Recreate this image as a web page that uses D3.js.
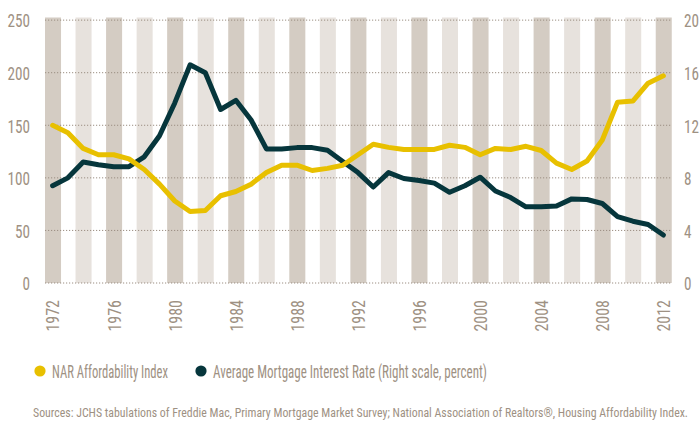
<!DOCTYPE html>
<html>
<head>
<meta charset="utf-8">
<script src="https://cdn.jsdelivr.net/npm/d3@7"></script>
<style>
  body { margin: 0; background: #fff; }
  svg text { font-family: "Roboto Condensed", "DejaVu Sans Condensed", "Liberation Sans Narrow", "DejaVu Sans", sans-serif; font-stretch: condensed; fill: #9e9183; }
</style>
</head>
<body>
<div id="chart"></div>
<script>
// Data
const years = d3.range(1972, 2013);
const affordability = [150, 143, 128, 122, 122, 118, 108, 94, 78, 68,
    69, 83, 87, 94, 105, 112, 112, 107, 109, 112,
    122, 132, 129, 127, 127, 127, 131, 129, 122, 128,
    127, 130, 126, 114, 108, 116, 136, 172, 173, 190, 197];
const mortgageRate = [7.4, 8.0, 9.2, 9.0, 8.85, 8.85, 9.6, 11.2, 13.7, 16.6,
    16.0, 13.2, 13.9, 12.4, 10.2, 10.2, 10.3, 10.3, 10.1, 9.25,
    8.4, 7.3, 8.4, 7.95, 7.8, 7.6, 6.9, 7.4, 8.05, 7.0,
    6.5, 5.8, 5.8, 5.85, 6.4, 6.35, 6.05, 5.05, 4.7, 4.45, 3.65];
const leftTicks = [0, 50, 100, 150, 200, 250];
const rightTicks = [0, 4, 8, 12, 16, 20];
const xLabelYears = d3.range(1972, 2013, 4);
const legendLabels = ['NAR Affordability Index', 'Average Mortgage Interest Rate (Right scale, percent)'];
const sourceNote = 'Sources: JCHS tabulations of Freddie Mac, Primary Mortgage Market Survey; National Association of Realtors\u00ae, Housing Affordability Index.';

const width = 700;
const height = 424;
const margin = {top: 17.5, right: 29, bottom: 141, left: 45};
const chartWidth = width - margin.left - margin.right;
const chartHeight = height - margin.top - margin.bottom;

const colors = {
    yellow: '#e8c000',
    dark: '#06363c',
    bandDark: '#d4ccc3',
    bandLight: '#e7e2dd',
    grid: '#9b8e82',
    text: '#9e9183'
};

// squeeze text horizontally to mimic the very condensed original font
function condense(selection, widthFn) {
    selection
        .attr('textLength', widthFn)
        .attr('lengthAdjust', 'spacingAndGlyphs');
}

const svg = d3.select('#chart')
  .append('svg')
    .attr('width', width)
    .attr('height', height);

const g = svg.append('g')
    .attr('transform', `translate(${margin.left},${margin.top})`);

// Scales
const xScale = d3.scaleBand()
    .domain(years)
    .range([0, chartWidth])
    .padding(0);

const yLeft = d3.scaleLinear()
    .domain([0, 252.5])
    .range([chartHeight, 0]);

const yRight = d3.scaleLinear()
    .domain([0, 20.2])
    .range([chartHeight, 0]);

const xCenter = year => xScale(year) + xScale.bandwidth() / 2;

// Background bands every other year, alternating dark / light
g.append('g')
    .selectAll('rect')
    .data(years.filter(y => (y - 1972) % 2 === 0))
  .enter().append('rect')
    .attr('x', d => xScale(d))
    .attr('y', 0)
    .attr('width', xScale.bandwidth() * 1.05)
    .attr('height', chartHeight)
    .attr('fill', d => (d - 1972) % 4 === 0 ? colors.bandDark : colors.bandLight);

// Grid lines (dotted)
g.append('g')
    .selectAll('line')
    .data(leftTicks)
  .enter().append('line')
    .attr('x1', 0)
    .attr('x2', chartWidth)
    .attr('y1', d => yLeft(d))
    .attr('y2', d => yLeft(d))
    .attr('stroke', colors.grid)
    .attr('stroke-width', 1)
    .attr('stroke-dasharray', '1.2,1.8');

// Axes
const leftAxis = g.append('g')
    .call(d3.axisLeft(yLeft).tickValues(leftTicks).tickSize(0).tickPadding(15));
const rightAxis = g.append('g')
    .attr('transform', `translate(${chartWidth},0)`)
    .call(d3.axisRight(yRight).tickValues(rightTicks).tickSize(0).tickPadding(13));
const bottomAxis = g.append('g')
    .attr('transform', `translate(0,${chartHeight})`)
    .call(d3.axisBottom(xScale).tickValues(xLabelYears).tickSize(0));

[leftAxis, rightAxis, bottomAxis].forEach(a => {
    a.select('.domain').remove();
    a.selectAll('text')
        .style('font-size', '19px')
        .attr('fill', colors.text)
        .call(condense, d => String(d).length * 7.5);
});
leftAxis.selectAll('text').attr('dy', '0.36em');
rightAxis.selectAll('text').attr('dy', '0.36em');

bottomAxis.selectAll('text')
    .attr('text-anchor', 'end')
    .attr('transform', 'rotate(-90)')
    .attr('x', -17)
    .attr('y', 0)
    .attr('dy', '0.36em')
    .call(condense, 31.5);

// Lines
const lineLeft = d3.line()
    .x((d, i) => xCenter(years[i]))
    .y(d => yLeft(d));
const lineRight = d3.line()
    .x((d, i) => xCenter(years[i]))
    .y(d => yRight(d));

g.append('path')
    .datum(mortgageRate)
    .attr('d', lineRight)
    .attr('fill', 'none')
    .attr('stroke', colors.dark)
    .attr('stroke-width', 5)
    .attr('stroke-linejoin', 'round')
    .attr('stroke-linecap', 'round');

g.append('path')
    .datum(affordability)
    .attr('d', lineLeft)
    .attr('fill', 'none')
    .attr('stroke', colors.yellow)
    .attr('stroke-width', 5)
    .attr('stroke-linejoin', 'round')
    .attr('stroke-linecap', 'round');

// Legend
const legend = svg.append('g')
    .attr('transform', 'translate(0,371)');
const legendItems = legend.selectAll('g')
    .data(legendLabels)
  .enter().append('g')
    .attr('transform', (d, i) => `translate(${i === 0 ? 40 : 201},0)`);
legendItems.append('circle')
    .attr('r', 5.6)
    .attr('fill', (d, i) => i === 0 ? colors.yellow : colors.dark);
legendItems.append('text')
    .attr('x', 12)
    .attr('dy', '0.36em')
    .style('font-size', '18.5px')
    .call(condense, (d, i) => i === 0 ? 116 : 274)
    .text(d => d);

// Source note
svg.append('text')
    .attr('x', 33)
    .attr('y', 417)
    .style('font-size', '13px')
    .call(condense, 655)
    .text(sourceNote);
</script>
</body>
</html>
